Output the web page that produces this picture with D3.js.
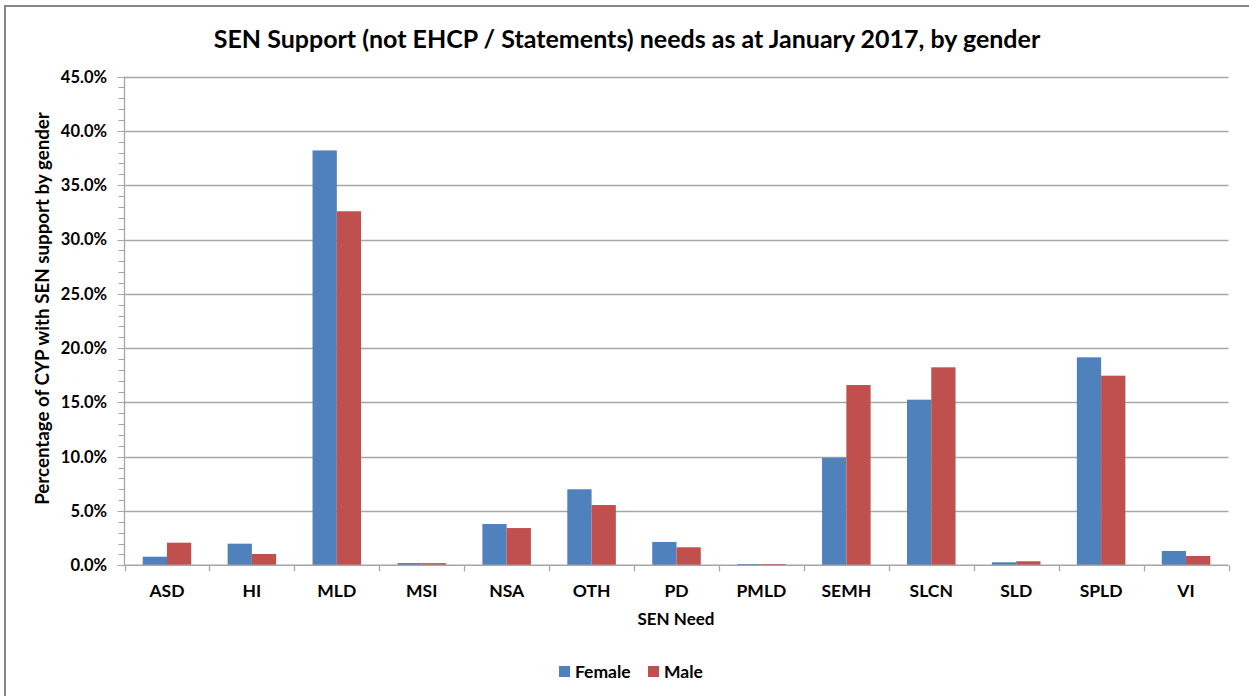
<!DOCTYPE html>
<html>
<head>
<meta charset="utf-8">
<script src="https://cdn.jsdelivr.net/npm/d3@7"></script>
<style>
  html, body { margin: 0; padding: 0; background: #fff; }
  svg { display: block; }
  text { font-family: Lato, "Open Sans", "Liberation Sans", sans-serif; fill: #000; }
</style>
</head>
<body>
<svg id="chart" width="1249" height="696"></svg>
<script>
// SEN need categories (x axis)
const categories = ["ASD", "HI", "MLD", "MSI", "NSA", "OTH", "PD", "PMLD", "SEMH", "SLCN", "SLD", "SPLD", "VI"];
// Percentage of CYP with SEN support, by gender
const femaleValues = [0.79, 1.99, 38.2, 0.21, 3.8, 7.0, 2.15, 0.12, 9.9, 15.25, 0.28, 19.15, 1.32];
const maleValues   = [2.08, 1.04, 32.6, 0.2, 3.43, 5.55, 1.66, 0.12, 16.6, 18.23, 0.37, 17.46, 0.86];
const seriesNames = ["Female", "Male"];
const seriesColors = ["#4F81BD", "#C0504D"];
const yTicks = [0, 5, 10, 15, 20, 25, 30, 35, 40, 45];

const svg = d3.select("#chart");
const margin = { left: 124.5, right: 1228.5, top: 76.6, bottom: 565.3 };

// shrink or grow a text element's font so it spans the given width
function fitWidth(sel, size, width) {
  sel.attr("font-size", size);
  const w = sel.node().getComputedTextLength();
  sel.attr("font-size", size * width / w);
}

// chart frame
svg.append("rect")
  .attr("x", 5).attr("y", 6)
  .attr("width", 1260).attr("height", 700)
  .attr("fill", "none").attr("stroke", "#868686").attr("stroke-width", 2);

const x = d3.scaleBand().domain(categories).range([margin.left, margin.right]).paddingInner(0).paddingOuter(0);
const inner = d3.scaleBand().domain(seriesNames).range([0, x.bandwidth()]).paddingInner(0).paddingOuter(0.75);
const y = d3.scaleLinear().domain([0, 45]).range([margin.bottom, margin.top]);

// gridlines
svg.append("g").selectAll("line").data(yTicks.filter(d => d > 0)).join("line")
  .attr("x1", margin.left).attr("x2", margin.right)
  .attr("y1", d => Math.round(y(d)) + 0.5).attr("y2", d => Math.round(y(d)) + 0.5)
  .attr("stroke", "#a6a6a6").attr("stroke-width", 1.3);

// y axis with minor ticks every 1%
const minor = d3.range(0, 46, 1);
const yAxisG = svg.append("g");
yAxisG.selectAll("line.minor").data(minor).join("line")
  .attr("x1", margin.left - 6).attr("x2", margin.left)
  .attr("y1", d => Math.round(y(d)) + 0.5).attr("y2", d => Math.round(y(d)) + 0.5)
  .attr("stroke", "#a6a6a6").attr("stroke-width", 1);
yAxisG.selectAll("line.major").data(yTicks).join("line")
  .attr("x1", margin.left - 7).attr("x2", margin.left)
  .attr("y1", d => Math.round(y(d)) + 0.5).attr("y2", d => Math.round(y(d)) + 0.5)
  .attr("stroke", "#a6a6a6").attr("stroke-width", 1);
yAxisG.append("line")
  .attr("x1", margin.left).attr("x2", margin.left)
  .attr("y1", margin.top).attr("y2", margin.bottom)
  .attr("stroke", "#a6a6a6").attr("stroke-width", 1.3);
yAxisG.selectAll("text").data(yTicks).join("text")
  .attr("x", 107).attr("y", d => y(d))
  .attr("dy", "0.36em").attr("text-anchor", "end")
  .attr("font-size", 16.5).attr("font-weight", "bold")
  .text(d => d.toFixed(1) + "%");

// bars
const barsG = svg.append("g");
categories.forEach((c, i) => {
  const vals = [femaleValues[i], maleValues[i]];
  seriesNames.forEach((s, j) => {
    barsG.append("rect")
      .attr("x", x(c) + inner(s))
      .attr("width", inner.bandwidth())
      .attr("y", y(vals[j]))
      .attr("height", y(0) - y(vals[j]))
      .attr("fill", seriesColors[j]);
  });
});

// x axis
const xAxisG = svg.append("g");
xAxisG.append("line")
  .attr("x1", margin.left).attr("x2", margin.right)
  .attr("y1", margin.bottom).attr("y2", margin.bottom)
  .attr("stroke", "#a6a6a6").attr("stroke-width", 1.5);
const bounds = categories.map(c => x(c)).concat([margin.right]);
xAxisG.selectAll("line.tick").data(bounds).join("line")
  .attr("x1", d => Math.round(d) + 0.5).attr("x2", d => Math.round(d) + 0.5)
  .attr("y1", margin.bottom).attr("y2", margin.bottom + 6)
  .attr("stroke", "#a6a6a6").attr("stroke-width", 1.3);
xAxisG.selectAll("text").data(categories).join("text")
  .attr("x", d => x(d) + x.bandwidth() / 2).attr("y", 597)
  .attr("text-anchor", "middle")
  .attr("font-size", 17.5).attr("font-weight", "bold")
  .text(d => d);

// axis titles
svg.append("text")
  .attr("x", 676).attr("y", 625)
  .attr("text-anchor", "middle").attr("font-size", 17).attr("font-weight", "bold")
  .text("SEN Need");
const yTitle = svg.append("text")
  .attr("transform", "translate(49," + 308.5 + ") rotate(-90)")
  .attr("text-anchor", "middle").attr("font-weight", "bold")
  .text("Percentage of CYP with SEN support by gender");
fitWidth(yTitle, 17, 393);

// title
const title = svg.append("text")
  .attr("x", 627).attr("y", 48)
  .attr("text-anchor", "middle").attr("font-weight", "bold")
  .text("SEN Support (not EHCP  / Statements) needs as at January 2017, by gender");
fitWidth(title, 21, 827);

// legend
const legend = svg.append("g");
const legendX = [559, 648];
seriesNames.forEach((s, j) => {
  legend.append("rect")
    .attr("x", legendX[j]).attr("y", 666)
    .attr("width", 11).attr("height", 11)
    .attr("fill", seriesColors[j]);
  legend.append("text")
    .attr("x", legendX[j] + 16).attr("y", 678)
    .attr("font-size", 17.5).attr("font-weight", "bold")
    .text(s);
});
</script>
</body>
</html>
